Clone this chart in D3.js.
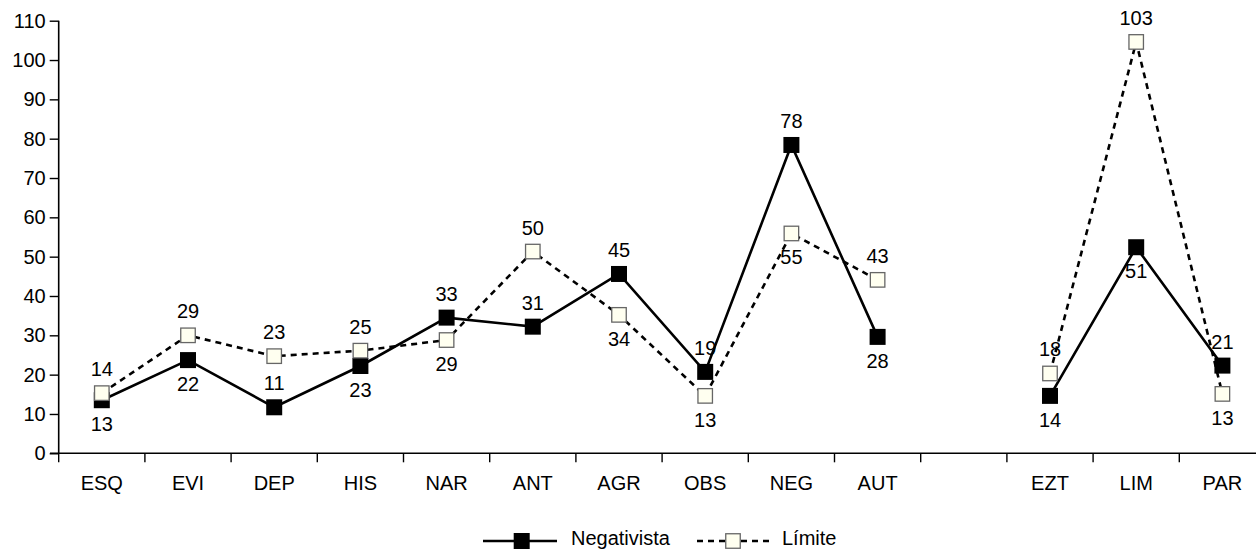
<!DOCTYPE html>
<html><head><meta charset="utf-8">
<script src="https://cdn.jsdelivr.net/npm/d3@7"></script>
<style>body{margin:0;background:#fff}svg{display:block}text{font-family:"Liberation Sans",Arial,Helvetica,sans-serif}</style>
</head><body><svg id="c" width="1256" height="550"></svg>
<script>
const categories = ["ESQ","EVI","DEP","HIS","NAR","ANT","AGR","OBS","NEG","AUT","","EZT","LIM","PAR"];
// plotted values
const negativista = [13.5,23.7,11.7,22.2,34.5,32.2,45.6,20.7,78.4,29.6,null,14.6,52.4,22.3];
const limite      = [15.3,30.0,24.7,26.1,28.8,51.3,35.2,14.6,55.9,44.1,null,20.3,104.6,15.1];
// printed data labels
const negLabels = [13,22,11,23,33,31,45,19,78,28,null,14,51,21];
const limLabels = [14,29,23,25,29,50,34,13,55,43,null,18,103,13];
// label side: 1 = above, -1 = below
const negSide = [-1,-1,1,-1,1,1,1,1,1,-1,0,-1,-1,1];
const limSide = [1,1,1,1,-1,1,-1,-1,-1,1,0,1,1,-1];
const yTicks = [0,10,20,30,40,50,60,70,80,90,100,110];

const svg = d3.select("#c");
const x = d3.scaleBand().domain(d3.range(categories.length)).range([58.7,1265.5]).padding(0);
const y = d3.scaleLinear().domain([0,110]).range([453.3,20.7]);
const cx = i => x(i) + x.bandwidth()/2;
const FS = 20;

// Y axis
const ya = svg.append("g").attr("transform","translate(58.7,0)")
  .call(d3.axisLeft(y).tickValues(yTicks).tickSize(9).tickPadding(4));
ya.select(".domain").attr("stroke","#000").attr("stroke-width",1.6).attr("d","M0,20.7V453.3");
ya.selectAll(".tick line").attr("stroke","#000").attr("stroke-width",1.4);
ya.selectAll("text").attr("font-size",FS).attr("fill","#000").attr("font-family",'"Liberation Sans",Arial,sans-serif');

// X axis
const xa = svg.append("g").attr("transform","translate(0,453.3)");
xa.append("line").attr("x1",50).attr("x2",1266).attr("stroke","#000").attr("stroke-width",1.6);
xa.selectAll("line.t").data(d3.range(categories.length+1)).join("line").attr("class","t")
  .attr("x1",i=>58.7+i*x.bandwidth()).attr("x2",i=>58.7+i*x.bandwidth())
  .attr("y1",0).attr("y2",9).attr("stroke","#000").attr("stroke-width",1.4);
xa.selectAll("text").data(categories).join("text")
  .attr("x",(d,i)=>cx(i)).attr("y",37).attr("text-anchor","middle").attr("font-size",FS).text(d=>d);

const line = d3.line().defined(d=>d.v!=null).x(d=>cx(d.i)).y(d=>y(d.v));
const negData = negativista.map((v,i)=>({v,i}));
const limData = limite.map((v,i)=>({v,i}));

svg.append("path").datum(limData).attr("d",line).attr("fill","none").attr("stroke","#000")
  .attr("stroke-width",2.6).attr("stroke-dasharray","6,5");
svg.append("path").datum(negData).attr("d",line).attr("fill","none").attr("stroke","#000")
  .attr("stroke-width",2.6);

const NS=16, LS=14.5;
svg.selectAll("rect.n").data(negData.filter(d=>d.v!=null)).join("rect").attr("class","n")
  .attr("x",d=>cx(d.i)-NS/2).attr("y",d=>y(d.v)-NS/2).attr("width",NS).attr("height",NS).attr("fill","#000");
svg.selectAll("rect.l").data(limData.filter(d=>d.v!=null)).join("rect").attr("class","l")
  .attr("x",d=>cx(d.i)-LS/2).attr("y",d=>y(d.v)-LS/2).attr("width",LS).attr("height",LS)
  .attr("fill","#fffff0").attr("stroke","#666").attr("stroke-width",1.3);

function labels(vals, labs, side){
  svg.append("g").selectAll("text").data(vals.map((v,i)=>({v,i,l:labs[i],s:side[i]})).filter(d=>d.v!=null))
    .join("text").attr("x",d=>cx(d.i)).attr("y",d=>y(d.v)+(d.s>0?-17:31))
    .attr("text-anchor","middle").attr("font-size",FS).text(d=>d.l);
}
labels(negativista,negLabels,negSide);
labels(limite,limLabels,limSide);

// Legend
const lg = svg.append("g");
lg.append("line").attr("x1",483).attr("x2",557).attr("y1",541).attr("y2",541).attr("stroke","#000").attr("stroke-width",2.6);
lg.append("rect").attr("x",521.7-NS/2).attr("y",541-NS/2).attr("width",NS).attr("height",NS).attr("fill","#000");
lg.append("text").attr("x",571).attr("y",545).attr("font-size",FS).text("Negativista");
lg.append("line").attr("x1",697).attr("x2",772).attr("y1",541).attr("y2",541).attr("stroke","#000").attr("stroke-width",2.6).attr("stroke-dasharray","6,5");
lg.append("rect").attr("x",733-LS/2).attr("y",541-LS/2).attr("width",LS).attr("height",LS).attr("fill","#fffff0").attr("stroke","#666").attr("stroke-width",1.3);
lg.append("text").attr("x",782).attr("y",545).attr("font-size",FS).text("Límite");
</script></body></html>
